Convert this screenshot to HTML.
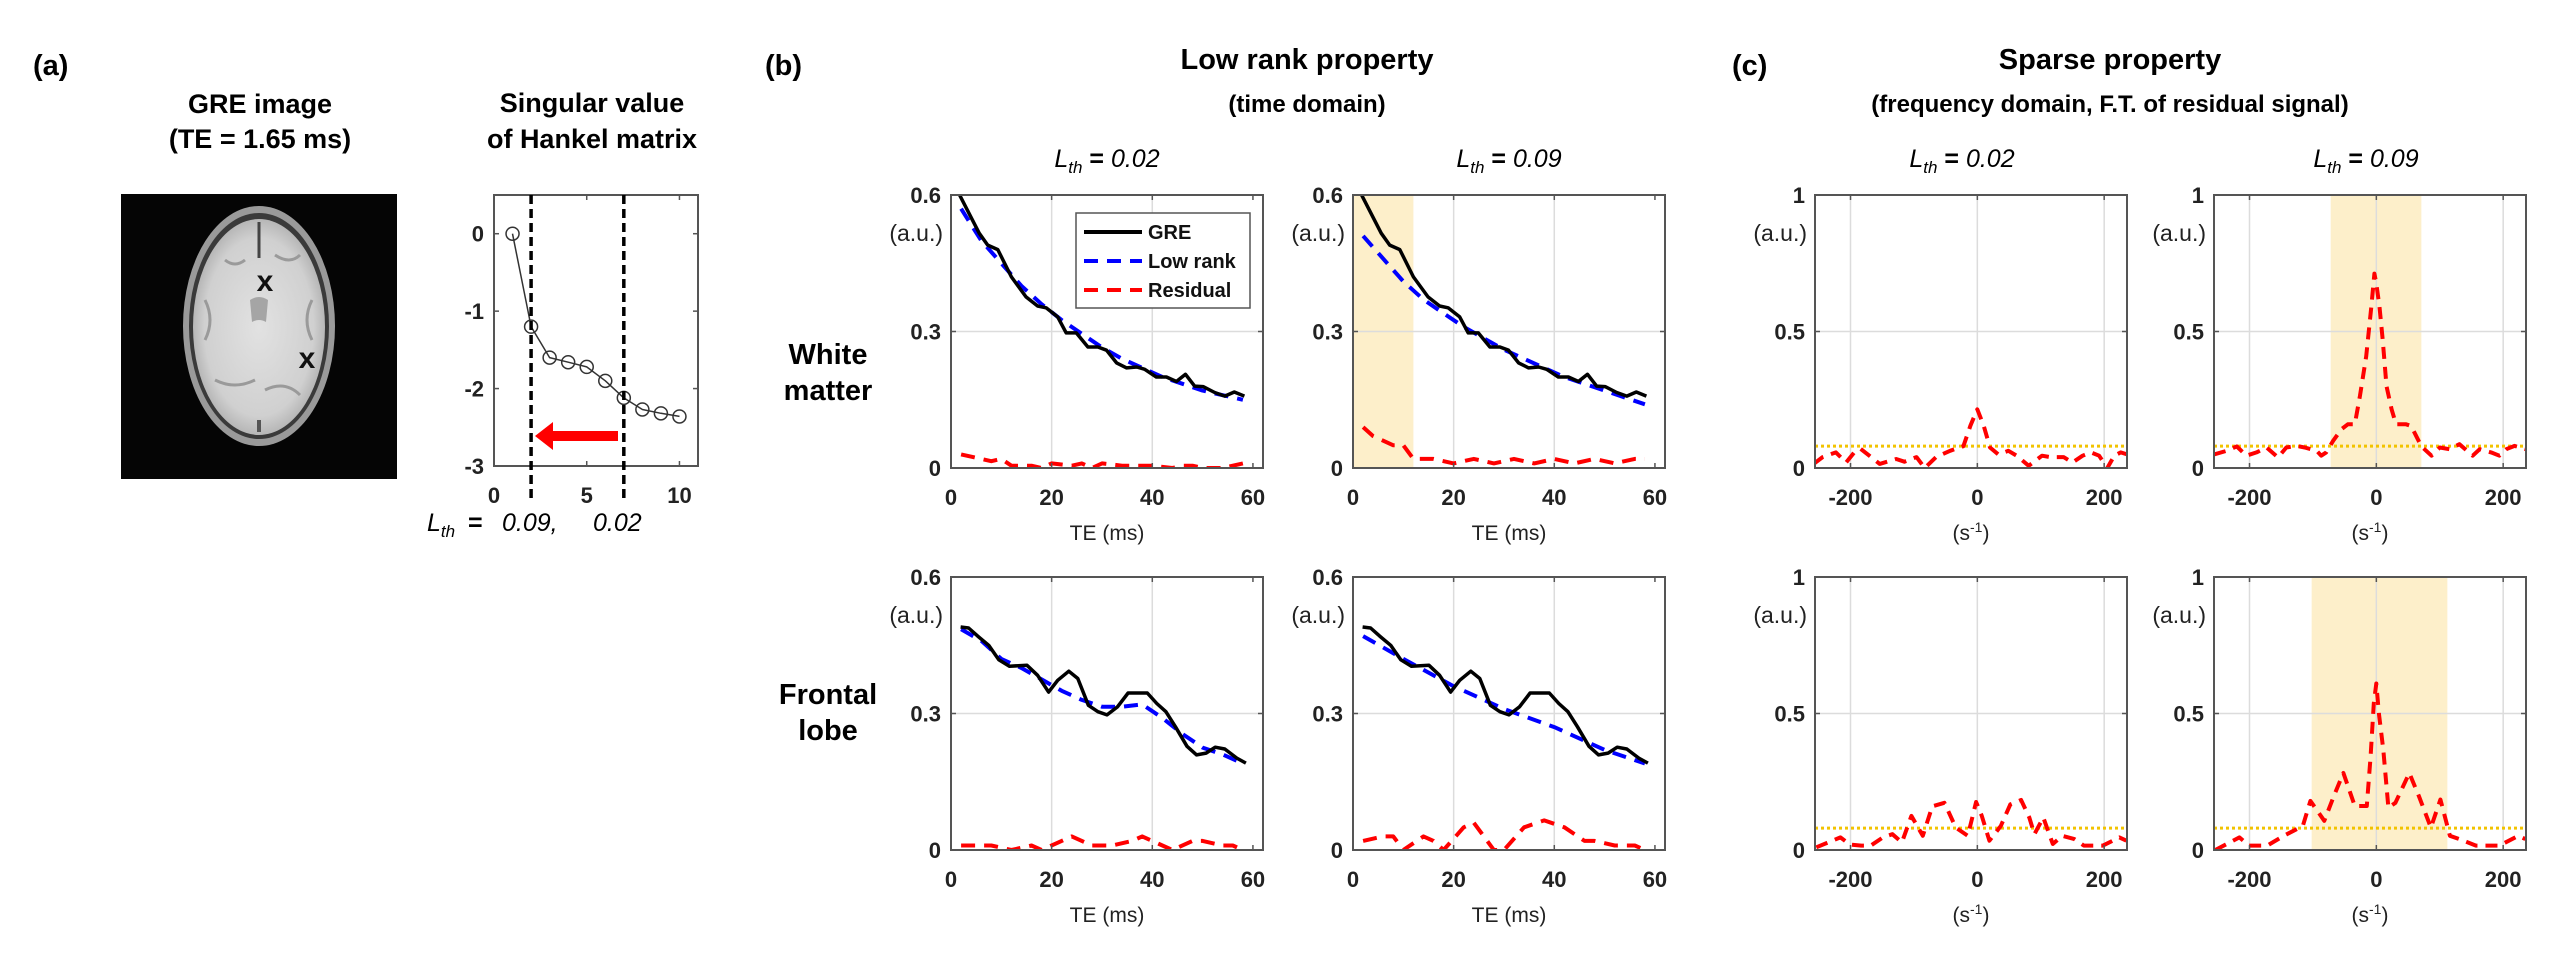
<!DOCTYPE html>
<html><head><meta charset="utf-8">
<style>
html,body{margin:0;padding:0;background:#fff;}
svg{display:block;font-family:"Liberation Sans",Arial,sans-serif;}
</style></head>
<body>
<svg id="fig" width="2574" height="953" viewBox="0 0 2574 953" xmlns="http://www.w3.org/2000/svg">
<defs>
<radialGradient id="brainGrad" cx="50%" cy="50%" r="55%">
<stop offset="0%" stop-color="#e2e2e2"/><stop offset="75%" stop-color="#d0d0d0"/><stop offset="100%" stop-color="#a8a8a8"/>
</radialGradient>
</defs>
<text x="33" y="75" font-size="29" font-weight="bold">(a)</text>
<text x="765" y="75" font-size="29" font-weight="bold">(b)</text>
<text x="1732" y="75" font-size="29" font-weight="bold">(c)</text>
<text x="260" y="113" font-size="27" font-weight="bold" text-anchor="middle">GRE image</text>
<text x="260" y="148" font-size="27" font-weight="bold" text-anchor="middle">(TE = 1.65 ms)</text>
<text x="592" y="112" font-size="27" font-weight="bold" text-anchor="middle">Singular value</text>
<text x="592" y="148" font-size="27" font-weight="bold" text-anchor="middle">of Hankel matrix</text>
<text x="1307" y="69" font-size="29" font-weight="bold" text-anchor="middle">Low rank property</text>
<text x="1307" y="112" font-size="24" font-weight="bold" text-anchor="middle">(time domain)</text>
<text x="2110" y="69" font-size="29" font-weight="bold" text-anchor="middle">Sparse property</text>
<text x="2110" y="112" font-size="24" font-weight="bold" text-anchor="middle">(frequency domain, F.T. of residual signal)</text>
<text x="828" y="364" font-size="29" font-weight="bold" text-anchor="middle">White</text>
<text x="828" y="400" font-size="29" font-weight="bold" text-anchor="middle">matter</text>
<text x="828" y="704" font-size="29" font-weight="bold" text-anchor="middle">Frontal</text>
<text x="828" y="740" font-size="29" font-weight="bold" text-anchor="middle">lobe</text>
<g>
<rect x="121" y="194" width="276" height="285" fill="#050505"/>
<ellipse cx="259" cy="326" rx="76" ry="120" fill="#9a9a9a"/>
<ellipse cx="259" cy="326" rx="70" ry="113" fill="#3a3a3a"/>
<ellipse cx="259" cy="327" rx="66" ry="108" fill="url(#brainGrad)"/>
<path d="M259 222 L259 258" stroke="#444" stroke-width="3"/>
<path d="M250 300 Q259 294 268 300 L266 322 Q259 318 252 322 Z" fill="#a5a5a5"/>
<path d="M205 300 q10 20 0 40 M312 300 q-10 20 0 40 M215 380 q20 10 40 0 M265 390 q20 -10 35 5 M225 260 q10 8 20 0 M275 255 q15 10 25 0" stroke="#9a9a9a" stroke-width="3" fill="none"/>
<path d="M259 420 L259 432" stroke="#555" stroke-width="4"/>
<text x="265" y="291" font-size="30" font-weight="bold" text-anchor="middle" fill="#111">x</text>
<text x="307" y="368" font-size="30" font-weight="bold" text-anchor="middle" fill="#111">x</text>
</g>
<g font-size="25">
<text x="427" y="531" font-style="italic">L<tspan font-size="17" dy="6">th</tspan></text>
<text x="468" y="531" font-weight="bold">=</text>
<text x="502" y="531" font-style="italic">0.09,</text>
<text x="593" y="531" font-style="italic">0.02</text>
</g>
<text x="1107" y="167" font-size="25" font-style="italic" text-anchor="middle">L<tspan font-size="17" dy="6">th</tspan><tspan dy="-6" font-style="normal" font-weight="bold"> =  </tspan><tspan>0.02</tspan></text>
<text x="1509" y="167" font-size="25" font-style="italic" text-anchor="middle">L<tspan font-size="17" dy="6">th</tspan><tspan dy="-6" font-style="normal" font-weight="bold"> =  </tspan><tspan>0.09</tspan></text>
<text x="1962" y="167" font-size="25" font-style="italic" text-anchor="middle">L<tspan font-size="17" dy="6">th</tspan><tspan dy="-6" font-style="normal" font-weight="bold"> =  </tspan><tspan>0.02</tspan></text>
<text x="2366" y="167" font-size="25" font-style="italic" text-anchor="middle">L<tspan font-size="17" dy="6">th</tspan><tspan dy="-6" font-style="normal" font-weight="bold"> =  </tspan><tspan>0.09</tspan></text>
</svg>
<script>
const svIndex = [1,2,3,4,5,6,7,8,9,10];
const svValues = [0,-1.2,-1.6,-1.66,-1.72,-1.9,-2.12,-2.27,-2.32,-2.36];
const svThresholds = [2,7];
const svXTicks = [0,5,10];
const svYTicks = [0,-1,-2,-3];

const teTicks = [0,20,40,60];
const ampTicks = [0,0.3,0.6];
const ampTickLabels = ['0','0.3','0.6'];
const freqTicks = [-200,0,200];
const specTicks = [0,0.5,1];
const specTickLabels = ['0','0.5','1'];

const greWmTE = [1.7,5.6,7.3,9.3,12,14.9,17.2,18.9,21.2,22.9,24.9,27.2,29.2,30.9,32.9,34.9,36.9,38.5,40.8,42.8,44.8,46.6,48.4,50.1,52.4,54.4,56.3,58.3];
const greWmVal = [0.6,0.516,0.49,0.48,0.42,0.376,0.356,0.352,0.332,0.297,0.297,0.266,0.266,0.259,0.231,0.22,0.222,0.217,0.2,0.2,0.19,0.206,0.18,0.179,0.166,0.158,0.167,0.158];
const lrTE = [2,6,10,14,18,22,26,30,34,38,42,46,50,54,58];
const lrWm002 = [0.57,0.50,0.45,0.40,0.36,0.325,0.295,0.265,0.24,0.22,0.2,0.185,0.17,0.16,0.15];
const lrWm009 = [0.51,0.46,0.41,0.37,0.34,0.31,0.285,0.26,0.24,0.22,0.2,0.185,0.17,0.155,0.14];
const resWm002TE = [2,6,8,10,12,16,18,20,24,26,28,30,34,38,40,44,46,48,50,54,58];
const resWm002 = [0.03,0.02,0.015,0.02,0.005,0.005,0,0.01,0.005,0.01,0,0.01,0.005,0.005,0.005,0,0.005,0.005,0,0,0.01];
const resWm009TE = [2,4,6,8,10,12,16,20,24,28,32,36,40,44,48,52,56,58];
const resWm009 = [0.09,0.07,0.06,0.05,0.05,0.02,0.02,0.01,0.02,0.01,0.02,0.01,0.02,0.01,0.02,0.01,0.02,0.02];

const greFlTE = [1.9,3.5,5.3,7.5,9.5,11.6,15.1,17.2,19.4,21.2,23.4,25.2,27.3,29.2,31,33.1,35.2,39,40.9,42.7,44.6,46.9,48.8,50.7,52.5,54.4,56.8,58.6];
const greFlVal = [0.49,0.488,0.47,0.45,0.418,0.404,0.406,0.384,0.347,0.373,0.393,0.377,0.318,0.304,0.297,0.315,0.345,0.345,0.322,0.304,0.271,0.228,0.209,0.213,0.226,0.222,0.202,0.191];
const lrFl002 = [0.485,0.46,0.42,0.40,0.375,0.35,0.33,0.315,0.315,0.32,0.29,0.255,0.225,0.21,0.19];
const lrFl009TE = [2,10,20,30,40,50,58];
const lrFl009 = [0.47,0.42,0.36,0.31,0.27,0.22,0.19];
const resFl002TE = [2,6,8,12,16,18,22,24,28,32,36,38,42,44,48,50,54,56,58];
const resFl002 = [0.01,0.01,0.01,0,0.01,0,0.02,0.03,0.01,0.01,0.02,0.03,0.01,0,0.02,0.02,0.01,0.01,0];
const resFl009TE = [2,6,8,10,14,16,18,22,24,28,30,34,38,42,46,48,52,56,58];
const resFl009 = [0.02,0.03,0.03,0,0.03,0.02,0,0.05,0.06,0,0,0.05,0.065,0.05,0.02,0.02,0.01,0.01,0];

const specWm002F = [-258,-244,-223,-207,-194,-184,-154,-128,-115,-96,-83,-65,-43,-22,-11,0,10,20,33,49,62,81,102,115,136,150,166,179,192,205,216,226,236];
const specWm002 = [0.015,0.04,0.057,0.02,0.057,0.07,0.015,0.033,0.023,0.04,0,0.04,0.063,0.08,0.155,0.215,0.155,0.075,0.05,0.063,0.045,0.008,0.045,0.04,0.04,0.02,0.045,0.057,0.045,0,0.045,0.057,0.05];
const specWm009F = [-256,-236,-220,-205,-189,-173,-155,-142,-126,-113,-94,-87,-79,-68,-55,-45,-34,-26,-16,-8,-3,0,5,10,16,24,31,47,55,71,87,100,115,131,152,163,181,194,205,218,226,236];
const specWm009 = [0.05,0.063,0.079,0.045,0.057,0.075,0.039,0.075,0.081,0.075,0.063,0.045,0.057,0.1,0.142,0.16,0.16,0.263,0.409,0.59,0.712,0.676,0.59,0.47,0.3,0.215,0.16,0.16,0.154,0.079,0.045,0.075,0.069,0.087,0.045,0.069,0.057,0.045,0.069,0.081,0.075,0.069];
const specFl002F = [-254,-216,-201,-183,-168,-149,-134,-119,-104,-86,-71,-52,-34,-15,-2,7,19,37,52,69,82,90,104,119,134,153,168,198,224,235];
const specFl002 = [0.01,0.046,0.02,0.016,0.016,0.046,0.058,0.028,0.125,0.052,0.16,0.173,0.082,0.052,0.176,0.125,0.034,0.088,0.167,0.183,0.119,0.058,0.119,0.022,0.052,0.04,0.016,0.016,0.046,0.034];
const specFl009F = [-254,-216,-201,-172,-146,-116,-104,-82,-67,-52,-34,-15,-9,-4,0,4,11,19,30,52,67,86,101,116,131,157,194,224,235];
const specFl009 = [0,0.046,0.016,0.016,0.052,0.088,0.18,0.107,0.198,0.282,0.161,0.161,0.343,0.537,0.61,0.5,0.367,0.155,0.173,0.282,0.198,0.082,0.185,0.052,0.04,0.016,0.016,0.052,0.04];

const threshold = [0.08];
const bandTE009 = [0,12];
const bandWm009 = [-72,71];
const bandFl009 = [-102,112];

const NS = 'http://www.w3.org/2000/svg';
const svg = document.getElementById('fig');
function mk(tag, attrs, parent){
  const e = document.createElementNS(NS, tag);
  for (const k in attrs) e.setAttribute(k, attrs[k]);
  (parent || svg).appendChild(e);
  return e;
}
let clipCount = 0;
function makeAxes(name, px, py, w, h, xmin, xmax, ymin, ymax){
  const g = mk('g', {});
  
  
  const sx = v => px + (v - xmin) / (xmax - xmin) * w;
  const sy = v => py + h - (v - ymin) / (ymax - ymin) * h;
  const id = 'clip' + (clipCount++);
  const cp = mk('clipPath', {id: id}, g);
  mk('rect', {x: px, y: py, width: w, height: h}, cp);
  const bg = mk('rect', {x: px, y: py, width: w, height: h, fill: '#fff'}, g);
  
  
  const layer = mk('g', {'clip-path': 'url(#' + id + ')'}, g);
  return {g, layer, sx, sy, px, py, w, h};
}
function band(ax, lo, hi){
  const r = mk('rect', {x: ax.sx(lo), y: ax.py, width: ax.sx(hi) - ax.sx(lo), height: ax.h, fill: '#fdefca'}, ax.layer);
  
  
}
function grid(ax, xt, yt){
  xt.forEach(v => {
    const l = mk('line', {x1: ax.sx(v), x2: ax.sx(v), y1: ax.py, y2: ax.py + ax.h, stroke: '#dcdcdc', 'stroke-width': 1.5}, ax.layer);
    
    
  });
  yt.forEach(v => {
    const l = mk('line', {x1: ax.px, x2: ax.px + ax.w, y1: ax.sy(v), y2: ax.sy(v), stroke: '#dcdcdc', 'stroke-width': 1.5}, ax.layer);
    
    
  });
}
function series(ax, xs, ys, color, width, dash, name){
  const pts = xs.map((x, i) => ax.sx(x).toFixed(1) + ',' + ax.sy(ys[i]).toFixed(1)).join(' ');
  const attrs = {points: pts, fill: 'none', stroke: color, 'stroke-width': width, 'stroke-linejoin': 'round'};
  if (dash) attrs['stroke-dasharray'] = dash;
  const p = mk('polyline', attrs, ax.layer);
  
  
  return p;
}
function hline(ax, v, name){
  const l = mk('line', {x1: ax.px, x2: ax.px + ax.w, y1: ax.sy(v), y2: ax.sy(v), stroke: '#f2c300', 'stroke-width': 3, 'stroke-dasharray': '3 3'}, ax.layer);
  
  
}
function frame(ax, xt, xl, yt, yl, xlabel, aulabel){
  const b = mk('rect', {x: ax.px, y: ax.py, width: ax.w, height: ax.h, fill: 'none', stroke: '#555', 'stroke-width': 2}, ax.g);
  
  
  xt.forEach((v, i) => {
    const x = ax.sx(v);
    mk('line', {x1: x, x2: x, y1: ax.py + ax.h, y2: ax.py + ax.h - 5, stroke: '#555', 'stroke-width': 1.5}, ax.g);
    mk('line', {x1: x, x2: x, y1: ax.py, y2: ax.py + 5, stroke: '#555', 'stroke-width': 1.5}, ax.g);
    const t = mk('text', {x: x, y: ax.py + ax.h + 37, 'font-size': 22, 'font-weight': 'bold', 'text-anchor': 'middle', fill: '#222'}, ax.g);
    t.textContent = xl[i];
    
    
  });
  yt.forEach((v, i) => {
    const y = ax.sy(v);
    mk('line', {x1: ax.px, x2: ax.px + 5, y1: y, y2: y, stroke: '#555', 'stroke-width': 1.5}, ax.g);
    mk('line', {x1: ax.px + ax.w, x2: ax.px + ax.w - 5, y1: y, y2: y, stroke: '#555', 'stroke-width': 1.5}, ax.g);
    const t = mk('text', {x: ax.px - 10, y: y + 8, 'font-size': 22, 'font-weight': 'bold', 'text-anchor': 'end', fill: '#222'}, ax.g);
    t.textContent = yl[i];
    
    
  });
  if (xlabel) {
    const t = mk('text', {x: ax.px + ax.w / 2, y: ax.py + ax.h + 72, 'font-size': 21, 'text-anchor': 'middle', fill: '#222'}, ax.g);
    if (xlabel === 'freq') {
      t.textContent = '(s';
      const s = mk('tspan', {'font-size': 14, dy: -8}, t);
      s.textContent = '-1';
      const e = mk('tspan', {dy: 8}, t);
      e.textContent = ')';
    } else {
      t.textContent = xlabel;
    }
    
    
  }
  if (aulabel) {
    const t = mk('text', {x: ax.px - 8, y: ax.py + 46, 'font-size': 23, 'text-anchor': 'end', fill: '#222'}, ax.g);
    t.textContent = '(a.u.)';
    
    
  }
}

(function(){
  const ax = makeAxes('singular-value-plot', 494, 195, 204, 271, 0, 11, -3, 0.5);
  frame(ax, svXTicks, svXTicks.map(String), svYTicks, svYTicks.map(String), null, false);
  series(ax, svIndex, svValues, '#333', 1.5, null, 'singular-value-line');
  svIndex.forEach((x, i) => {
    const c = mk('circle', {cx: ax.sx(x), cy: ax.sy(svValues[i]), r: 6.5, fill: 'none', stroke: '#333', 'stroke-width': 1.5}, ax.g);
    
    
  });
  svThresholds.forEach(v => {
    const l = mk('line', {x1: ax.sx(v), x2: ax.sx(v), y1: 195, y2: 503, stroke: '#000', 'stroke-width': 3.5, 'stroke-dasharray': '9 5'});
    
    
  });
  const a = mk('path', {d: 'M618 431 L553 431 L553 422 L535 436 L553 450 L553 441 L618 441 Z', fill: '#f00'});
  
  
})();

const W = 312, H = 273;
function timePlot(name, px, py, greTE, greV, lrX, lrV, resX, resV, bandR){
  const ax = makeAxes(name, px, py, W, H, 0, 62, 0, 0.6);
  if (bandR) band(ax, bandR[0], bandR[1]);
  grid(ax, [20, 40], [0.3]);
  series(ax, resX, resV, '#f00', 4, '14 9', 'residual-line');
  series(ax, lrX, lrV, '#00f', 4, '14 9', 'low-rank-line');
  series(ax, greTE, greV, '#000', 3.5, null, 'gre-line');
  frame(ax, teTicks, teTicks.map(String), ampTicks, ampTickLabels, 'TE (ms)', true);
  return ax;
}
timePlot('plot-wm-lth-002', 951, 195, greWmTE, greWmVal, lrTE, lrWm002, resWm002TE, resWm002, null);
timePlot('plot-wm-lth-009', 1353, 195, greWmTE, greWmVal, lrTE, lrWm009, resWm009TE, resWm009, bandTE009);
timePlot('plot-fl-lth-002', 951, 577, greFlTE, greFlVal, lrTE, lrFl002, resFl002TE, resFl002, null);
timePlot('plot-fl-lth-009', 1353, 577, greFlTE, greFlVal, lrFl009TE, lrFl009, resFl009TE, resFl009, null);

(function(){
  const g = mk('g', {});
  
  
  mk('rect', {x: 1076, y: 213, width: 174, height: 95, fill: '#fff', stroke: '#555', 'stroke-width': 1.5}, g);
  const items = [['GRE', '#000', null], ['Low rank', '#00f', '14 9'], ['Residual', '#f00', '14 9']];
  items.forEach((it, i) => {
    const y = 232 + i * 29;
    const l = mk('line', {x1: 1084, x2: 1142, y1: y, y2: y, stroke: it[1], 'stroke-width': 4}, g);
    if (it[2]) l.setAttribute('stroke-dasharray', it[2]);
    const t = mk('text', {x: 1148, y: y + 7, 'font-size': 20, 'font-weight': 'bold', fill: '#111'}, g);
    t.textContent = it[0];
    
    
  });
})();

function specPlot(name, px, py, fx, fv, bandR){
  const ax = makeAxes(name, px, py, W, H, -256, 236, 0, 1);
  if (bandR) band(ax, bandR[0], bandR[1]);
  grid(ax, freqTicks, [0.5]);
  hline(ax, threshold[0], 'sparsity-threshold-line');
  series(ax, fx, fv, '#f00', 4, '12 8', 'residual-spectrum-line');
  frame(ax, freqTicks, freqTicks.map(String), specTicks, specTickLabels, 'freq', true);
}
specPlot('spectrum-wm-lth-002', 1815, 195, specWm002F, specWm002, null);
specPlot('spectrum-wm-lth-009', 2214, 195, specWm009F, specWm009, bandWm009);
specPlot('spectrum-fl-lth-002', 1815, 577, specFl002F, specFl002, null);
specPlot('spectrum-fl-lth-009', 2214, 577, specFl009F, specFl009, bandFl009);
</script>
</body></html>
